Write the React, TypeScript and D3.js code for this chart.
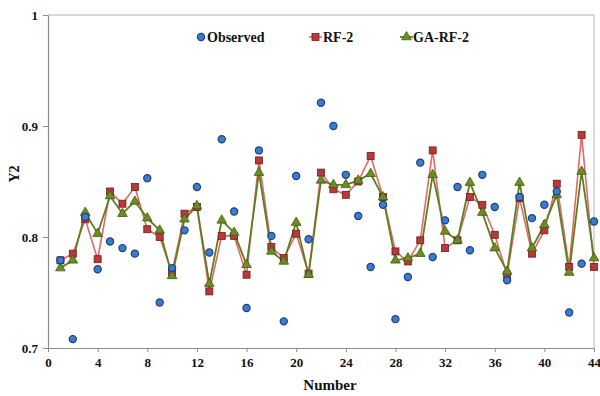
import React, { useEffect, useRef } from 'react';
import * as d3 from 'd3';

const numbers = d3.range(1, 45);
const observed = [
  0.779, 0.708, 0.818, 0.771, 0.796, 0.790, 0.785, 0.853, 0.741, 0.772,
  0.806, 0.845, 0.786, 0.888, 0.823, 0.736, 0.878, 0.801, 0.724, 0.855,
  0.798, 0.921, 0.900, 0.856, 0.819, 0.773, 0.829, 0.726, 0.764, 0.867,
  0.782, 0.815, 0.845, 0.788, 0.856, 0.827, 0.761, 0.836, 0.817, 0.829,
  0.841, 0.732, 0.776, 0.814,
];
const rf2 = [
  0.779, 0.785, 0.816, 0.780, 0.841, 0.830, 0.845, 0.807, 0.800, 0.768,
  0.821, 0.827, 0.751, 0.801, 0.801, 0.766, 0.869, 0.791, 0.781, 0.803,
  0.767, 0.858, 0.843, 0.838, 0.850, 0.873, 0.836, 0.787, 0.778, 0.797,
  0.878, 0.790, 0.797, 0.836, 0.829, 0.802, 0.766, 0.835, 0.785, 0.806,
  0.848, 0.773, 0.892, 0.773,
];
const gaRf2 = [
  0.772, 0.779, 0.822, 0.803, 0.837, 0.821, 0.832, 0.817, 0.806, 0.765,
  0.816, 0.828, 0.758, 0.815, 0.804, 0.775, 0.858, 0.787, 0.778, 0.813,
  0.766, 0.851, 0.847, 0.847, 0.851, 0.857, 0.836, 0.779, 0.781, 0.785,
  0.856, 0.805, 0.797, 0.849, 0.822, 0.790, 0.769, 0.849, 0.790, 0.811,
  0.838, 0.768, 0.859, 0.781,
];
const xTicks = d3.range(0, 45, 4);
const yTicks = [0.7, 0.8, 0.9, 1];

const colors = {
  axis: '#8c8c8c',
  obsFill: '#3b7bd0',
  obsStroke: '#1f3f73',
  rfFill: '#b8393a',
  rfStroke: '#6e1c1c',
  rfLine: '#e06a66',
  gaFill: '#6b8e23',
  gaStroke: '#3f5a12',
  gaLine: '#5d7e1e',
};

export default function App() {
  const svgRef = useRef<SVGSVGElement>(null);
  const width = 600;
  const height = 396;

  useEffect(() => {
    if (!svgRef.current) return;
    const svg = d3.select(svgRef.current);
    svg.selectAll('*').remove();

    const m = { top: 15, right: 6, bottom: 48, left: 48 };
    const iw = width - m.left - m.right;
    const ih = height - m.top - m.bottom;
    const font = '"Liberation Serif", "Times New Roman", serif';

    const x = d3.scaleLinear().domain([0, 44]).range([0, iw]);
    const y = d3.scaleLinear().domain([0.7, 1]).range([ih, 0]);

    const g = svg.append('g').attr('transform', `translate(${m.left},${m.top})`);

    // plot frame (top/right)
    g.append('path')
      .attr('d', `M0,0H${iw}V${ih}`)
      .attr('fill', 'none')
      .attr('stroke', '#b5b5b5')
      .attr('stroke-width', 1);

    const xAxis = g.append('g')
      .attr('transform', `translate(0,${ih})`)
      .call(d3.axisBottom(x).tickValues(xTicks).tickSize(4).tickSizeOuter(0).tickPadding(6).tickFormat(d3.format('d')));
    const yAxis = g.append('g')
      .call(d3.axisLeft(y).tickValues(yTicks).tickSize(5).tickSizeOuter(0).tickPadding(5).tickFormat(d => String(d)));

    [xAxis, yAxis].forEach(ax => {
      ax.select('.domain').attr('stroke', colors.axis).attr('stroke-width', 1.2);
      ax.selectAll('line').attr('stroke', colors.axis);
      ax.selectAll('text')
        .attr('fill', '#111')
        .style('font-family', font)
        .style('font-weight', 'bold')
        .style('font-size', '13px');
    });

    const line = d3.line<number>().x((_, i) => x(numbers[i])).y(d => y(d));

    g.append('path').datum(rf2)
      .attr('d', line).attr('fill', 'none')
      .attr('stroke', colors.rfLine).attr('stroke-width', 1.6);
    g.append('path').datum(gaRf2)
      .attr('d', line).attr('fill', 'none')
      .attr('stroke', colors.gaLine).attr('stroke-width', 1.8);

    const sq = 7;
    g.selectAll('.rf').data(rf2).enter().append('rect')
      .attr('x', (_, i) => x(numbers[i]) - sq / 2)
      .attr('y', d => y(d) - sq / 2)
      .attr('width', sq).attr('height', sq)
      .attr('fill', colors.rfFill).attr('stroke', colors.rfStroke).attr('stroke-width', 0.8);

    const tri = d3.symbol().type(d3.symbolTriangle).size(40);
    g.selectAll('.ga').data(gaRf2).enter().append('path')
      .attr('d', tri)
      .attr('transform', (d, i) => `translate(${x(numbers[i])},${y(d)})`)
      .attr('fill', colors.gaFill).attr('stroke', colors.gaStroke).attr('stroke-width', 0.8);

    g.selectAll('.obs').data(observed).enter().append('circle')
      .attr('cx', (_, i) => x(numbers[i]))
      .attr('cy', d => y(d))
      .attr('r', 3.6)
      .attr('fill', colors.obsFill).attr('stroke', colors.obsStroke).attr('stroke-width', 1.2);

    // legend
    const lg = svg.append('g').style('font-family', font).style('font-weight', 'bold').style('font-size', '14px');
    const ly = 37;
    lg.append('circle').attr('cx', 201).attr('cy', ly).attr('r', 3.6)
      .attr('fill', colors.obsFill).attr('stroke', colors.obsStroke).attr('stroke-width', 1.2);
    lg.append('text').attr('x', 207).attr('y', ly + 5).attr('fill', '#111').text('Observed');

    lg.append('line').attr('x1', 309).attr('x2', 322).attr('y1', ly).attr('y2', ly)
      .attr('stroke', colors.rfLine).attr('stroke-width', 1.6);
    lg.append('rect').attr('x', 315.5 - sq / 2).attr('y', ly - sq / 2).attr('width', sq).attr('height', sq)
      .attr('fill', colors.rfFill).attr('stroke', colors.rfStroke).attr('stroke-width', 0.8);
    lg.append('text').attr('x', 323).attr('y', ly + 5).attr('fill', '#111').text('RF-2');

    lg.append('line').attr('x1', 400).attr('x2', 413).attr('y1', ly).attr('y2', ly)
      .attr('stroke', colors.gaLine).attr('stroke-width', 1.8);
    lg.append('path').attr('d', tri).attr('transform', `translate(406.5,${ly})`)
      .attr('fill', colors.gaFill).attr('stroke', colors.gaStroke).attr('stroke-width', 0.8);
    lg.append('text').attr('x', 413).attr('y', ly + 5).attr('fill', '#111').text('GA-RF-2');

    // axis titles
    svg.append('text')
      .attr('transform', 'translate(19,174) rotate(-90)')
      .attr('text-anchor', 'middle')
      .attr('fill', '#111')
      .style('font-family', font).style('font-weight', 'bold').style('font-size', '14px')
      .text('Y2');
    svg.append('text')
      .attr('x', 330).attr('y', 390)
      .attr('text-anchor', 'middle')
      .attr('fill', '#111')
      .style('font-family', font).style('font-weight', 'bold').style('font-size', '15px')
      .text('Number');
  }, []);

  return (
    <svg ref={svgRef} width={width} height={height}
      style={{ position: 'absolute', left: 0, top: 0, background: '#fff' }} />
  );
}
